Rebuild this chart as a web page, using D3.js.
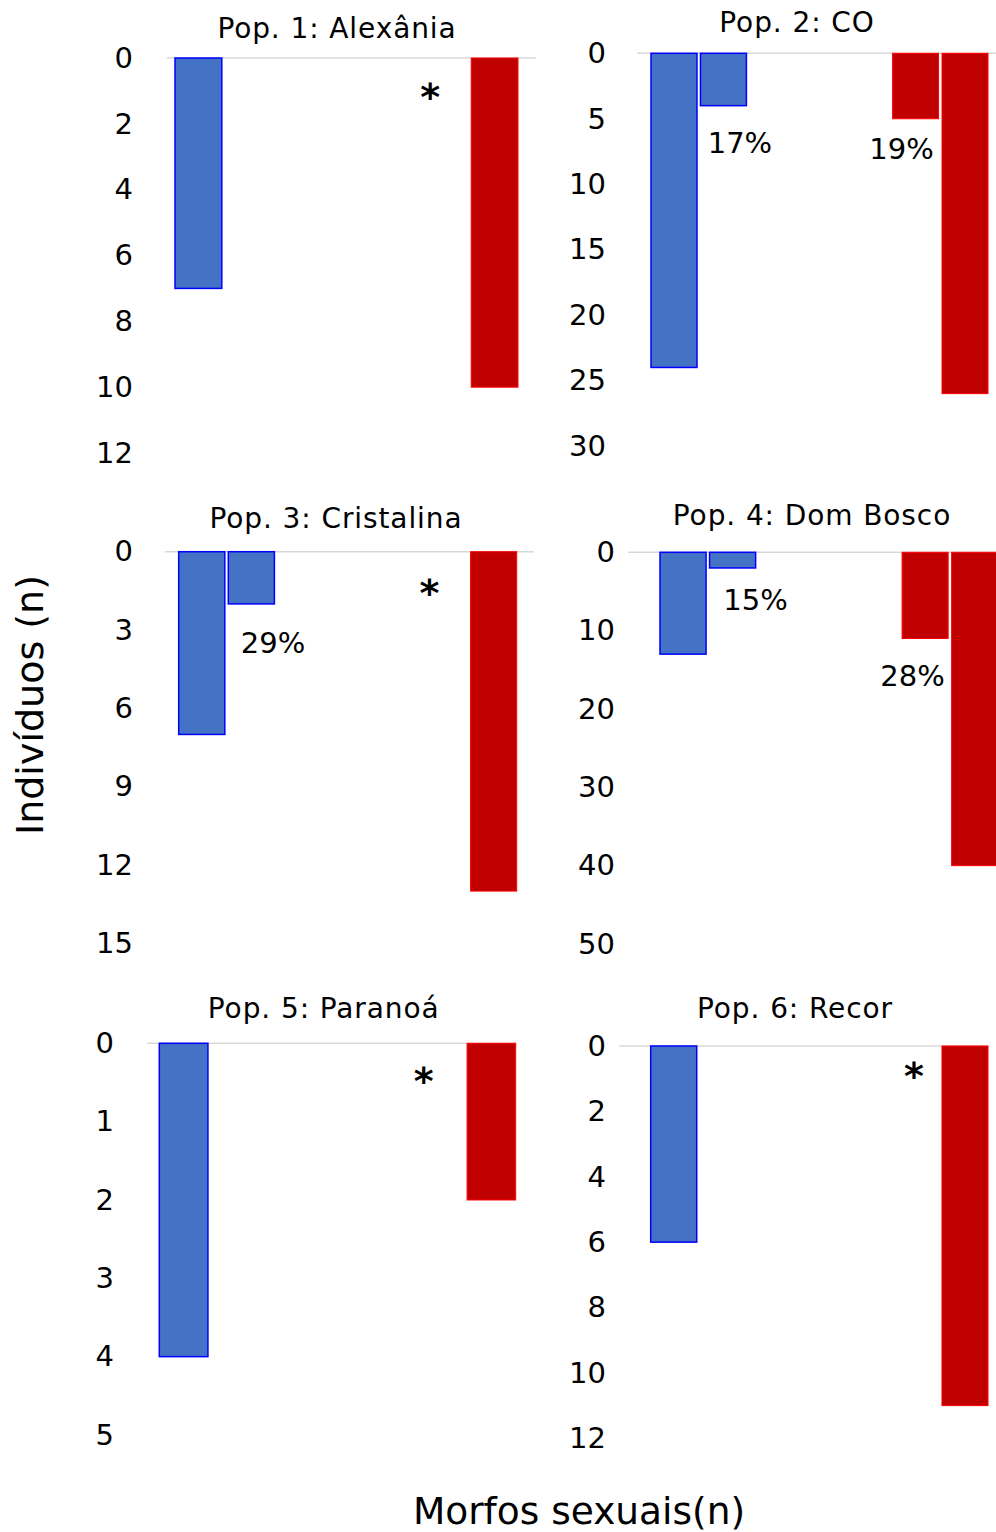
<!DOCTYPE html>
<html>
<head>
<meta charset="utf-8">
<script src="https://cdn.jsdelivr.net/npm/d3@7"></script>
<style>
  body { margin: 0; background: #fff; }
  svg { display: block; font-family: "DejaVu Sans", Verdana, sans-serif; }
</style>
</head>
<body>
<div class="chart-container"></div>
<script>
// Dados
const populacoes = ["Pop. 1: Alexânia", "Pop. 2: CO", "Pop. 3: Cristalina",
                    "Pop. 4: Dom Bosco", "Pop. 5: Paranoá", "Pop. 6: Recor"];
const azulTotal   = [7, 24, 7, 13, 4, 6];
const azulParcial = [0, 4, 2, 2, 0, 0];
const vermParcial = [0, 5, 0, 11, 0, 0];
const vermTotal   = [10, 26, 13, 40, 2, 11];
const rotulosAzul = ["", "17%", "29%", "15%", "", ""];
const rotulosVerm = ["*", "19%", "*", "28%", "*", "*"];
const yMaximo = [12, 30, 15, 50, 5, 12];
const yPasso  = [2, 5, 3, 10, 1, 2];

// Layout of each small chart (pixels)
const paineis = [
  {bx:[175,518],   y:[58,453],     grid:[167,536],   tick:133, title:[337,38],     la:[0,0],      lv:[-14,35]},
  {bx:[651,988],   y:[53.3,446],   grid:[637,996],   tick:606, title:[797,32.3],   la:[16.5,37],  lv:[-14,30]},
  {bx:[178.7,516.7],y:[551.7,943.3],grid:[165,534],  tick:133, title:[336,528.3],  la:[21.7,39.3],lv:[-14.5,37.6]},
  {bx:[660,997.7], y:[552.3,944],  grid:[628,996],   tick:615, title:[812,525],    la:[23,31.6],  lv:[-12.6,37.7]},
  {bx:[159.3,515.7],y:[1043.3,1435],grid:[147.3,515.7],tick:114,title:[323.7,1018.3],la:[0,0],   lv:[-15.4,34]},
  {bx:[650.7,988], y:[1046,1438.3],grid:[619.3,988.3],tick:606, title:[795,1018.3],la:[0,0],      lv:[-1.5,25.7]}
];

const width = 996;
const height = 1532;

const svg = d3.select('.chart-container').append("svg")
    .attr("width", width)
    .attr("height", height);

populacoes.forEach((nome, i) => {
    const p = paineis[i];
    const g = svg.append("g");

    const y = d3.scaleLinear()
        .domain([0, yMaximo[i]])
        .range(p.y);

    const grupos = d3.scaleBand()
        .domain(["azul", "vermelho"])
        .range(p.bx)
        .paddingInner(0.605)
        .paddingOuter(0);

    const sub = d3.scaleBand()
        .domain([0, 1])
        .range([0, grupos.bandwidth()])
        .paddingInner(0.07);

    // zero line
    g.append("line")
        .attr("x1", p.grid[0]).attr("x2", p.grid[1])
        .attr("y1", y(0)).attr("y2", y(0))
        .attr("stroke", "#d9d9d9")
        .attr("stroke-width", 1.5);

    // y axis
    const eixo = g.append("g")
        .attr("transform", `translate(${p.tick},0)`)
        .call(d3.axisLeft(y)
            .tickValues(d3.range(0, yMaximo[i] + yPasso[i] / 2, yPasso[i]))
            .tickFormat(d3.format("d"))
            .tickSize(0).tickPadding(0));
    eixo.select(".domain").remove();
    eixo.selectAll("text")
        .attr("font-size", 29)
        .attr("font-family", "DejaVu Sans, Verdana, sans-serif")
        .attr("fill", "#000");

    const barras = [
        {grupo: "azul", k: 0, v: azulTotal[i], fill: "#4472c4", stroke: "#0000ff", sw: 1.5},
        {grupo: "azul", k: 1, v: azulParcial[i], fill: "#4472c4", stroke: "#0000ff", sw: 1.5, rot: rotulosAzul[i], off: p.la},
        {grupo: "vermelho", k: 0, v: vermParcial[i], fill: "#c00000", stroke: "#ff0000", sw: 1, rot: rotulosVerm[i], off: p.lv},
        {grupo: "vermelho", k: 1, v: vermTotal[i], fill: "#c00000", stroke: "#ff0000", sw: 1}
    ];

    g.selectAll("rect")
        .data(barras.filter(d => d.v > 0))
        .enter()
        .append("rect")
        .attr("x", d => grupos(d.grupo) + sub(d.k))
        .attr("y", y(0))
        .attr("width", sub.bandwidth())
        .attr("height", d => y(d.v) - y(0))
        .attr("fill", d => d.fill)
        .attr("stroke", d => d.stroke)
        .attr("stroke-width", d => d.sw);

    // data labels (percentages and asterisks)
    g.selectAll("text.rotulo")
        .data(barras.filter(d => d.rot))
        .enter()
        .append("text")
        .attr("class", "rotulo")
        .attr("x", d => grupos(d.grupo) + sub(d.k) + sub.bandwidth() / 2 + d.off[0])
        .attr("y", d => y(d.v) + d.off[1])
        .attr("dy", d => d.rot === "*" ? "0.45em" : "0.35em")
        .attr("text-anchor", "middle")
        .attr("font-size", d => d.rot === "*" ? 38 : 29)
        .attr("font-weight", d => d.rot === "*" ? "bold" : "normal")
        .text(d => d.rot);

    // title
    g.append("text")
        .attr("x", p.title[0])
        .attr("y", p.title[1])
        .attr("text-anchor", "middle")
        .attr("font-size", 28)
        .attr("letter-spacing", "0.9px")
        .text(nome);
});

// axis titles
svg.append("text")
    .attr("transform", "translate(43,705) rotate(-90)")
    .attr("text-anchor", "middle")
    .attr("font-size", 38)
    .text("Indivíduos (n)");

svg.append("text")
    .attr("x", 579)
    .attr("y", 1524)
    .attr("text-anchor", "middle")
    .attr("font-size", 37.5)
    .text("Morfos sexuais(n)");
</script>
</body>
</html>
